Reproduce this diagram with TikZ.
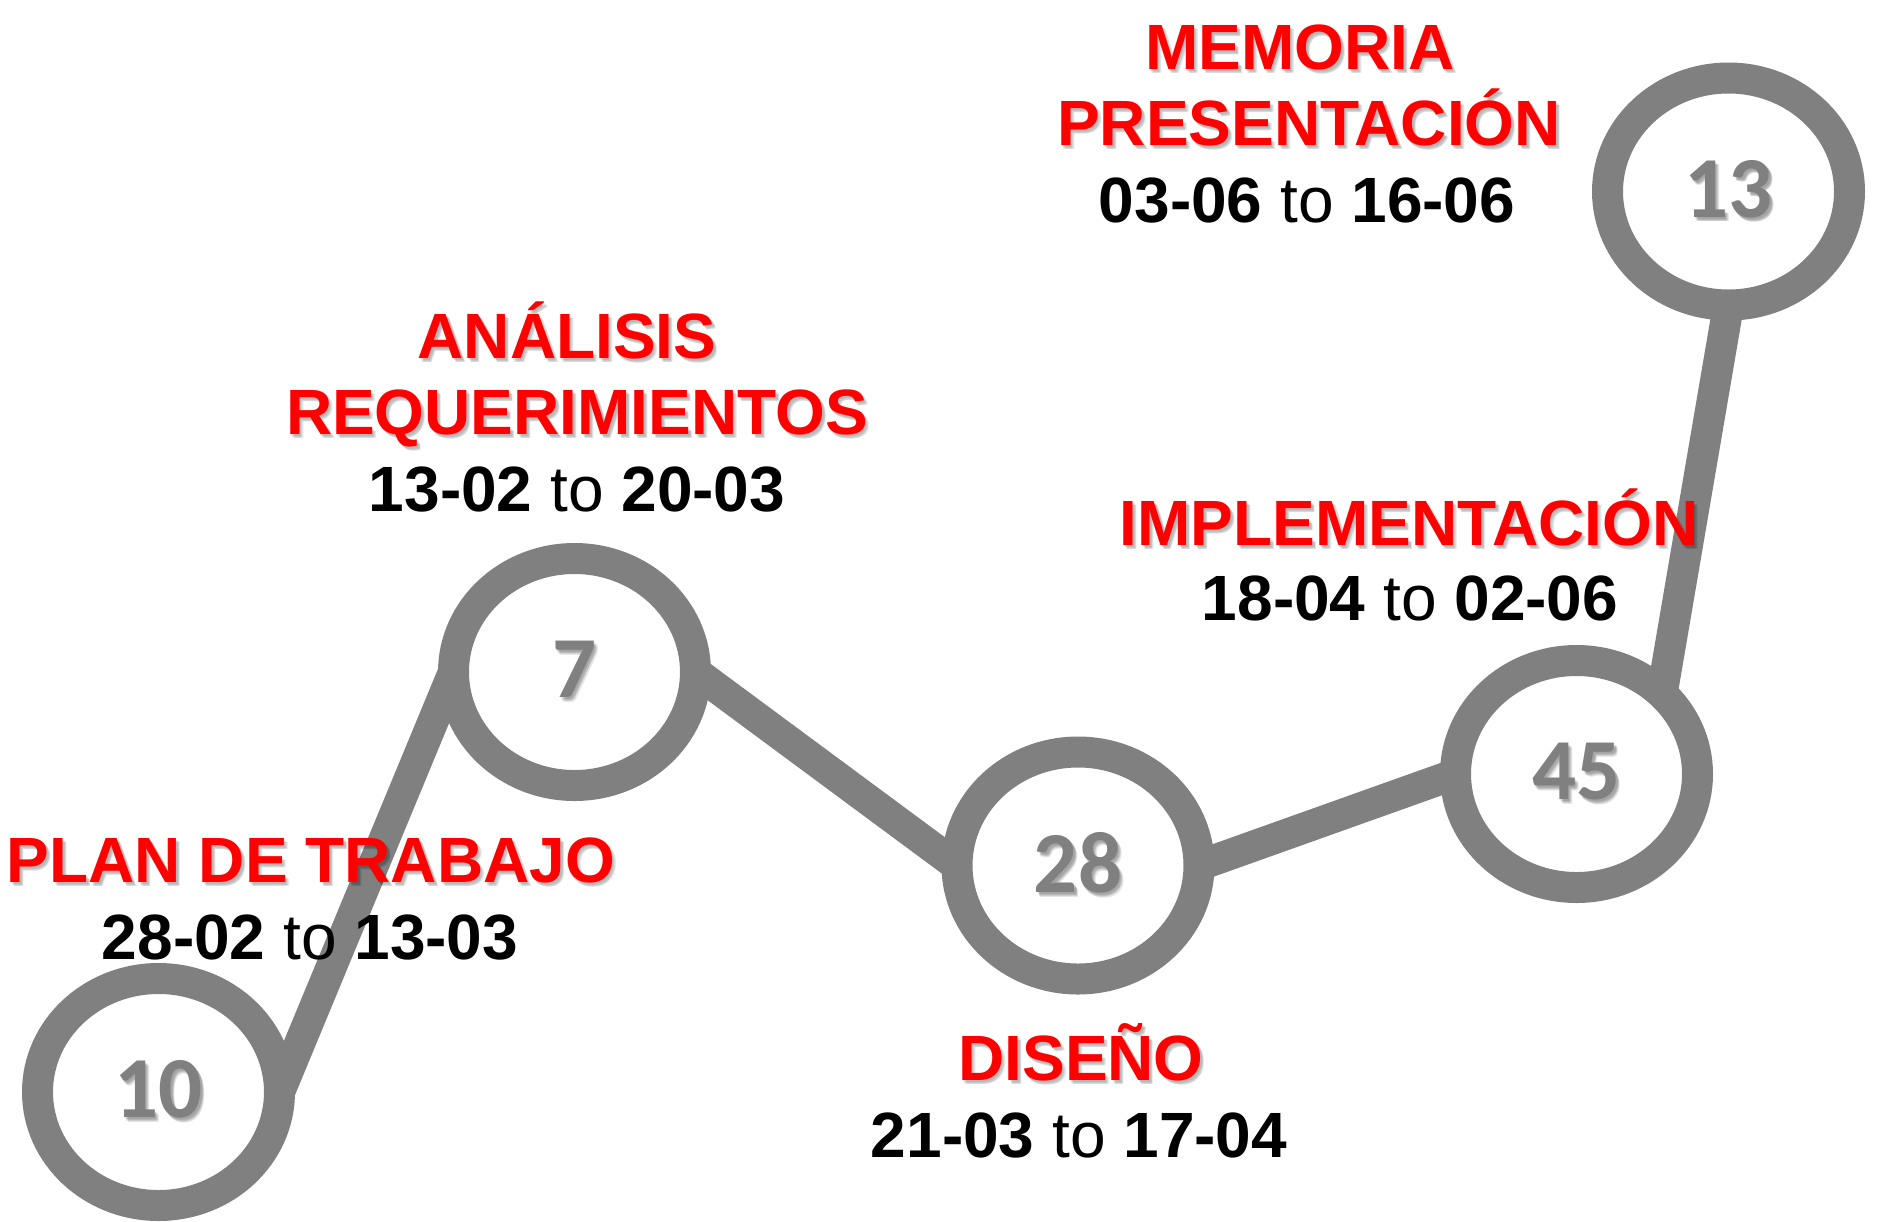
\documentclass[tikz,border=0pt]{standalone}
\usepackage{fontspec}
\setmainfont{Liberation Sans}
\newfontfamily\numfont{Carlito}
\usetikzlibrary{shapes.geometric,backgrounds}
\definecolor{ringgray}{HTML}{808080}
\definecolor{labelred}{HTML}{FF0000}
% one shadow copy: opacity, x offset, y offset, text
\newcommand\shcopy[4]{\rlap{\kern#2\raisebox{-#3}{\pgfsetfillopacity{#1}\color{black}#4\pgfsetfillopacity{1}}}}
% text with a soft (blurred-looking) drop shadow
\newcommand\shd[2][0.08]{\leavevmode
  \shcopy{#1}{1.5pt}{2pt}{#2}\shcopy{#1}{3pt}{3pt}{#2}%
  \shcopy{#1}{4pt}{4.5pt}{#2}\shcopy{#1}{2.5pt}{4pt}{#2}#2}
\newcommand\dspan[2]{\textbf{#1} to \textbf{#2}}
\begin{document}
\begin{tikzpicture}[x=1pt,y=-1pt,
  stage/.style={ellipse, draw=ringgray, fill=white, line width=31pt,
    minimum width=242pt, minimum height=227pt, inner sep=0pt, outer sep=0pt,
    text=ringgray, font=\numfont\bfseries\fontsize{87}{87}\selectfont},
  conn/.style={draw=ringgray, line width=31pt},
  title/.style={anchor=base, inner sep=0pt, text=labelred,
    font=\bfseries\fontsize{64}{77}\selectfont},
  dates/.style={anchor=base, inner sep=0pt, text=black,
    font=\fontsize{64}{77}\selectfont}]
\useasboundingbox (0,0) rectangle (1878,1221);

% stages
\node[stage] (n10) at (158.5,1092) {\shd[0.1]{10}};
\node[stage] (n7)  at (574.5,672)  {\shd[0.1]{7}};
\node[stage] (n28) at (1078,865.5) {\shd[0.1]{28}};
\node[stage] (n45) at (1576.5,774) {\shd[0.1]{45}};
\node[stage] (n13) at (1728.5,191.5) {\shd[0.1]{13}};

% connectors (behind the rings)
\begin{pgfonlayer}{background}
\draw[conn] (n10.east) -- (n7.west);
\draw[conn] (n7.east) -- (n28.west);
\draw[conn] (n28.east) -- (n45.west);
\draw[conn] (n45.north east) -- (n13.south);
\end{pgfonlayer}

% labels
\node[title] (planT) at (311,882) {\shd{PLAN DE TRABAJO}};
\node[dates] (planD) at (310,959) {\dspan{28-02}{13-03}};

\node[title] (anaT1) at (567,358) {\shd{ANÁLISIS}};
\node[title] (anaT2) at (577,434) {\shd{REQUERIMIENTOS}};
\node[dates] (anaD)  at (577,511) {\dspan{13-02}{20-03}};

\node[title] (disT) at (1081,1080) {\shd{DISEÑO}};
\node[dates] (disD) at (1079,1157) {\dspan{21-03}{17-04}};

\node[title] (impT) at (1409,545) {\shd{IMPLEMENTACIÓN}};
\node[dates] (impD) at (1410,620) {\dspan{18-04}{02-06}};

\node[title] (memT1) at (1300,69)  {\shd{MEMORIA}};
\node[title] (memT2) at (1309,145) {\shd{PRESENTACIÓN}};
\node[dates] (memD)  at (1307,222) {\dspan{03-06}{16-06}};
\end{tikzpicture}
\end{document}
